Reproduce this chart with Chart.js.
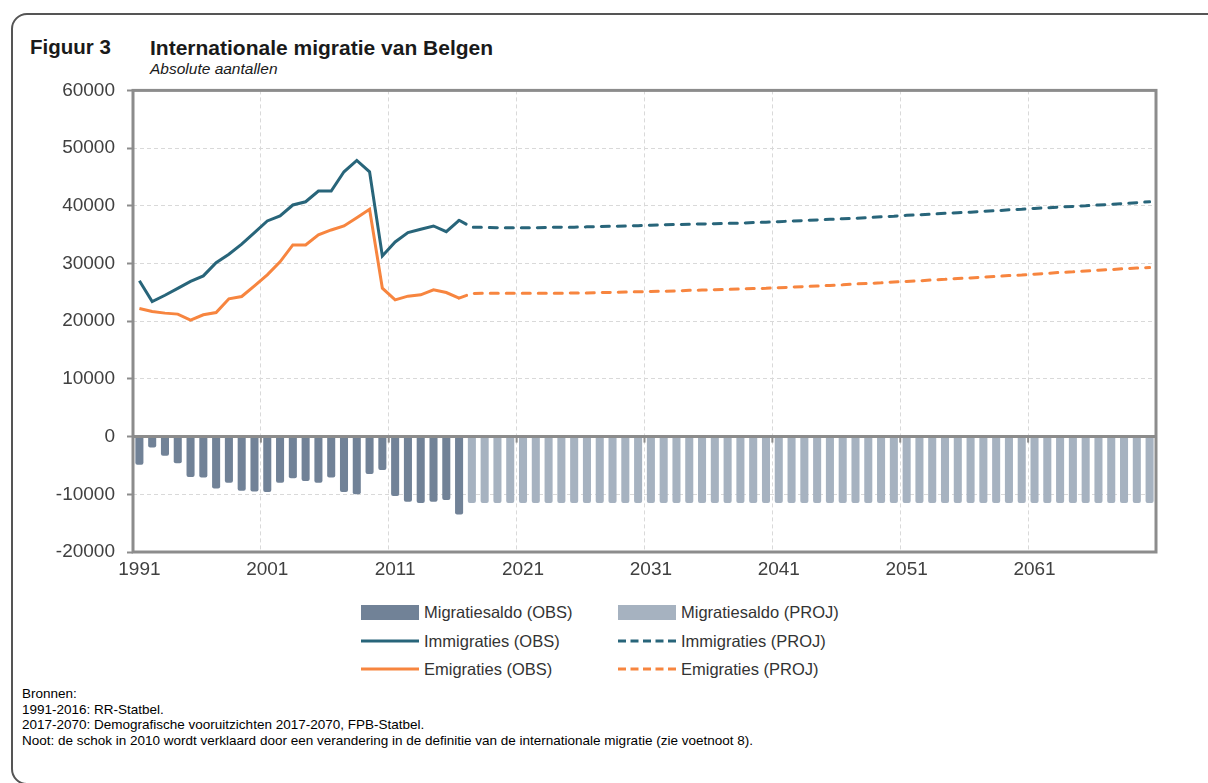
<!DOCTYPE html>
<html>
<head>
<meta charset="utf-8">
<title>Internationale migratie van Belgen</title>
<script src="https://cdn.jsdelivr.net/npm/chart.js@4.4.1/dist/chart.umd.min.js"></script>
<style>
    body { margin: 0; width: 1208px; height: 783px; overflow: hidden; position: relative; background: #fff; font-family: "Liberation Sans", Arial, sans-serif; color: #1a1a1a; }
    .frame { position: absolute; left: 11px; top: 13px; width: 1260px; height: 772px; border: 2px solid #555; border-radius: 16px; box-sizing: border-box; }
    .head { position: absolute; top: 37px; font-size: 20.5px; font-weight: bold; line-height: 1; }
    .sub { position: absolute; left: 150px; top: 61px; font-size: 15.5px; font-style: italic; line-height: 1; }
    #chartBox { position: absolute; left: 0; top: 67px; width: 1180px; height: 525px; }
    .legend-item { position: absolute; height: 20px; display: flex; align-items: center; font-size: 16.5px; color: #333; white-space: nowrap; }
    .legend-item .swatch { width: 58px; height: 20px; margin-right: 5px; display: flex; align-items: center; }
    .notes { position: absolute; left: 22px; top: 686px; font-size: 13.5px; line-height: 15.6px; color: #000; }
</style>
</head>
<body>
<div class="frame"></div>
<div class="head" style="left:30px">Figuur 3</div>
<div class="head" style="left:150px;font-size:21px">Internationale migratie van Belgen</div>
<div class="sub">Absolute aantallen</div>
<div id="chartBox"><canvas id="migChart"></canvas></div>
<div id="legend"></div>
<div class="notes">
    Bronnen:<br>
    1991-2016: RR-Statbel.<br>
    2017-2070: Demografische vooruitzichten 2017-2070, FPB-Statbel.<br>
    Noot: de schok in 2010 wordt verklaard door een verandering in de definitie van de internationale migratie (zie voetnoot 8).
</div>
<script>
const years = [
    '1991', '1992', '1993', '1994', '1995', '1996', '1997', '1998', '1999', '2000',
    '2001', '2002', '2003', '2004', '2005', '2006', '2007', '2008', '2009', '2010',
    '2011', '2012', '2013', '2014', '2015', '2016', '2017', '2018', '2019', '2020',
    '2021', '2022', '2023', '2024', '2025', '2026', '2027', '2028', '2029', '2030',
    '2031', '2032', '2033', '2034', '2035', '2036', '2037', '2038', '2039', '2040',
    '2041', '2042', '2043', '2044', '2045', '2046', '2047', '2048', '2049', '2050',
    '2051', '2052', '2053', '2054', '2055', '2056', '2057', '2058', '2059', '2060',
    '2061', '2062', '2063', '2064', '2065', '2066', '2067', '2068', '2069', '2070'
];

// observed 1991-2016
const immigObs = [27000, 23400, 24500, 25700, 26900, 27850, 30150, 31600, 33350, 35350,
    37370, 38240, 40140, 40700, 42560, 42560, 45900, 47870, 45900, 31300,
    33740, 35350, 35930, 36500, 35520, 37490];
const emigObs = [22200, 21680, 21400, 21230, 20190, 21110, 21510, 23880, 24280, 26120,
    28030, 30280, 33220, 33220, 34950, 35810, 36500, 37940, 39390, 25730,
    23700, 24340, 24570, 25430, 24970, 24000];
const saldoObs = [-4900, -1900, -3300, -4600, -7000, -7100, -9000, -8000, -9400, -9500,
    -9600, -8000, -7200, -7700, -8000, -7100, -9600, -10000, -6500, -5800,
    -10300, -11300, -11500, -11300, -11000, -13500];

// projection lines start at 2016, bars at 2017
const immigProj = [37490,
    36300, 36250, 36200, 36200, 36200, 36200, 36250, 36300, 36300, 36350,
    36400, 36450, 36500, 36550, 36650, 36700, 36750, 36800, 36850, 36900,
    36950, 37000, 37100, 37150, 37250, 37350, 37450, 37550, 37650, 37750,
    37850, 37950, 38100, 38200, 38350, 38450, 38550, 38700, 38800, 38900,
    39050, 39150, 39300, 39400, 39550, 39650, 39800, 39900, 40000, 40150,
    40250, 40400, 40550, 40700];
const emigProj = [24000,
    24800, 24850, 24850, 24850, 24850, 24850, 24850, 24850, 24900, 24900,
    24950, 25000, 25050, 25100, 25150, 25200, 25250, 25350, 25400, 25450,
    25500, 25600, 25650, 25700, 25800, 25900, 26000, 26100, 26200, 26300,
    26450, 26550, 26650, 26800, 26900, 27000, 27150, 27250, 27400, 27500,
    27650, 27750, 27900, 28000, 28150, 28300, 28450, 28550, 28700, 28850,
    28950, 29100, 29200, 29300];
const saldoProj = [
    -11500, -11500, -11500, -11500, -11500, -11500, -11500, -11500, -11500, -11500,
    -11500, -11500, -11500, -11500, -11500, -11500, -11500, -11500, -11500, -11500,
    -11500, -11500, -11500, -11500, -11500, -11500, -11500, -11500, -11500, -11500,
    -11500, -11500, -11500, -11500, -11500, -11500, -11500, -11500, -11500, -11500,
    -11500, -11500, -11500, -11500, -11500, -11500, -11500, -11500, -11500, -11500,
    -11500, -11500, -11500, -11500];

const yTicks = [-20000, -10000, 0, 10000, 20000, 30000, 40000, 50000, 60000];

const COL_BAR_OBS = '#718297';
const COL_BAR_PROJ = '#a6b2c0';
const COL_IMM = '#28657a';
const COL_EMI = '#f7853f';
const AXIS_GREY = '#8c8c8c';
const GRID_GREY = '#d9d9d9';

const toPoints = (vals, startYear) => {
    const start = years.indexOf(startYear);
    return vals.map((v, i) => ({ x: years[start + i], y: v }));
};

const frameAndZero = {
    id: 'frameAndZero',
    afterDatasetsDraw(chart) {
        const { ctx, chartArea: a, scales: { x, y } } = chart;
        const y0 = y.getPixelForValue(0);
        ctx.save();
        ctx.strokeStyle = AXIS_GREY;
        ctx.lineWidth = 3;
        ctx.beginPath();
        ctx.moveTo(a.left, y0);
        ctx.lineTo(a.right, y0);
        ctx.stroke();
        // small tick marks on the zero axis at the decade boundaries
        ctx.lineWidth = 2;
        for (let i = 10; i < years.length; i += 10) {
            const px = (x.getPixelForTick(i) + x.getPixelForTick(i - 1)) / 2;
            ctx.beginPath();
            ctx.moveTo(px, y0);
            ctx.lineTo(px, y0 + 6);
            ctx.stroke();
        }
        ctx.lineWidth = 3;
        ctx.strokeRect(a.left, a.top, a.right - a.left, a.bottom - a.top);
        ctx.restore();
    }
};

const chart = new Chart(document.getElementById('migChart'), {
    data: {
        labels: years,
        datasets: [
            { type: 'bar', label: 'Migratiesaldo (OBS)', data: toPoints(saldoObs, '1991'), backgroundColor: COL_BAR_OBS, grouped: false, order: 2, borderRadius: 2, borderSkipped: 'start' },
            { type: 'bar', label: 'Migratiesaldo (PROJ)', data: toPoints(saldoProj, '2017'), backgroundColor: COL_BAR_PROJ, grouped: false, order: 2, borderRadius: 2, borderSkipped: 'start' },
            { type: 'line', label: 'Immigraties (OBS)', data: toPoints(immigObs, '1991'), borderColor: COL_IMM, borderWidth: 3, pointRadius: 0, order: 1 },
            { type: 'line', label: 'Immigraties (PROJ)', data: toPoints(immigProj, '2016'), borderColor: COL_IMM, borderWidth: 3, borderDash: [8, 8], borderCapStyle: 'round', pointRadius: 0, order: 1 },
            { type: 'line', label: 'Emigraties (OBS)', data: toPoints(emigObs, '1991'), borderColor: COL_EMI, borderWidth: 3, pointRadius: 0, order: 1 },
            { type: 'line', label: 'Emigraties (PROJ)', data: toPoints(emigProj, '2016'), borderColor: COL_EMI, borderWidth: 3, borderDash: [8, 8], borderCapStyle: 'round', pointRadius: 0, order: 1 }
        ]
    },
    options: {
        responsive: true,
        maintainAspectRatio: false,
        animation: false,
        layout: { padding: { top: 17, right: 24, bottom: 0, left: 0 } },
        datasets: {
            bar: { categoryPercentage: 1, barPercentage: 0.63 }
        },
        plugins: {
            legend: { display: false },
            tooltip: { enabled: false }
        },
        scales: {
            x: {
                offset: true,
                afterFit: (scale) => { scale.height = 40; },
                grid: {
                    offset: true,
                    drawTicks: false,
                    lineWidth: 1,
                    color: (c) => (c.index % 10 === 0 && c.index > 0 && c.index < years.length) ? GRID_GREY : 'rgba(0,0,0,0)'
                },
                border: { display: false, dash: [4, 3] },
                ticks: {
                    autoSkip: false,
                    maxRotation: 0,
                    padding: 6,
                    color: '#404040',
                    font: { family: '"Liberation Sans", Arial, sans-serif', size: 19 },
                    callback: function (val, i) { return i % 10 === 0 ? this.getLabelForValue(val) : ''; }
                }
            },
            y: {
                min: -20000,
                max: 60000,
                afterFit: (scale) => { scale.width = 133; },
                afterBuildTicks: (scale) => { scale.ticks = yTicks.map(v => ({ value: v })); },
                grid: {
                    lineWidth: 1,
                    color: (c) => (c.tick && c.tick.value !== 0 && c.tick.value !== 60000 && c.tick.value !== -20000) ? GRID_GREY : 'rgba(0,0,0,0)',
                    tickLength: 6,
                    tickColor: AXIS_GREY,
                    tickWidth: 2,
                    tickBorderDash: []
                },
                border: { display: false, dash: [4, 3] },
                ticks: {
                    padding: 12,
                    color: '#404040',
                    font: { family: '"Liberation Sans", Arial, sans-serif', size: 19 },
                    callback: (v) => String(v)
                }
            }
        }
    },
    plugins: [frameAndZero]
});

// legend in two columns: OBS left, PROJ right
const legendBox = document.getElementById('legend');
const colX = [361, 618];
const rowY = [602, 631, 659];
chart.data.datasets.forEach((ds, i) => {
    const item = document.createElement('div');
    item.className = 'legend-item';
    item.style.left = colX[i % 2] + 'px';
    item.style.top = rowY[Math.floor(i / 2)] + 'px';
    let sw;
    if (ds.type === 'bar') {
        sw = '<div style="width:58px;height:15px;background:' + ds.backgroundColor + '"></div>';
    } else {
        const dash = ds.borderDash ? ' stroke-dasharray="8 4.5"' : '';
        sw = '<svg width="58" height="6"><line x1="0" y1="3" x2="58" y2="3" stroke="' + ds.borderColor + '" stroke-width="3"' + dash + '/></svg>';
    }
    item.innerHTML = '<div class="swatch">' + sw + '</div><span>' + ds.label + '</span>';
    legendBox.appendChild(item);
});
</script>
</body>
</html>
